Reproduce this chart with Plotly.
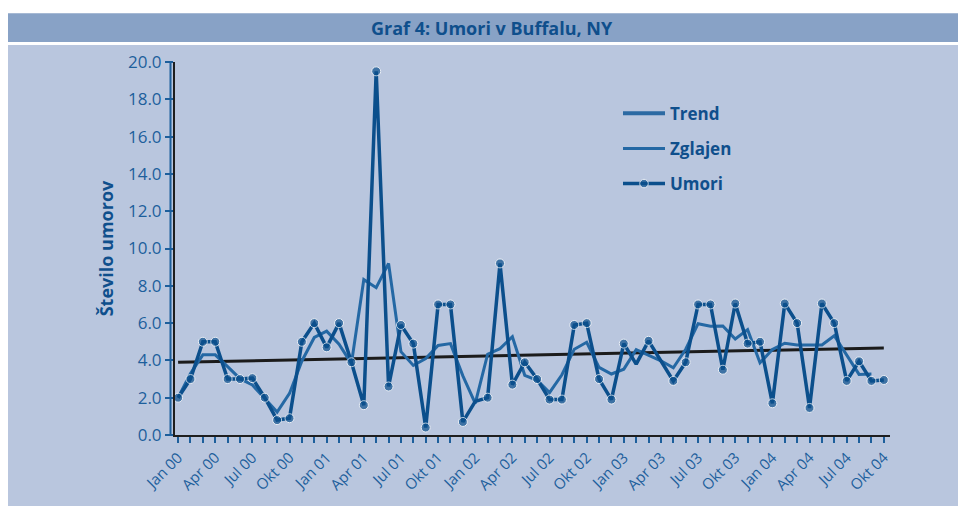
import plotly.graph_objects as go

# ---------------- data ----------------
months = ["Jan", "Feb", "Mar", "Apr", "Maj", "Jun", "Jul", "Avg", "Sep", "Okt", "Nov", "Dec"]
years = ["00", "01", "02", "03", "04"]
categories = [f"{m} {y}" for y in years for m in months][:58]   # Jan 00 .. Okt 04
label_months = ["Jan", "Apr", "Jul", "Okt"]
tick_labels = [c if c.split()[0] in label_months else "" for c in categories]

umori = [2.0, 3.0, 5.0, 5.0, 3.0, 3.0, 3.05, 2.0, 0.8, 0.9,
         5.0, 6.0, 4.7, 6.0, 3.9, 1.6, 19.5, 2.6, 5.9, 4.9,
         0.4, 7.0, 7.0, 0.7, 1.8, 2.0, 9.2, 2.7, 3.9, 3.0,
         1.9, 1.9, 5.9, 6.0, 3.0, 1.9, 4.9, 3.8, 5.05, 4.0,
         2.9, 3.9, 7.0, 7.0, 3.5, 7.05, 4.9, 5.0, 1.7, 7.05,
         6.0, 1.45, 7.05, 6.0, 2.9, 3.95, 2.9, 2.95]

zglajen = [2.0, 3.3, 4.3, 4.3, 3.67, 3.02, 2.68, 1.95, 1.23, 2.23,
           3.97, 5.23, 5.57, 4.87, 3.83, 8.33, 7.9, 9.2, 4.47, 3.73,
           4.1, 4.8, 4.9, 3.17, 1.7, 4.33, 4.63, 5.27, 3.2, 2.93,
           2.27, 3.23, 4.6, 4.97, 3.63, 3.27, 3.53, 4.58, 4.28, 3.98,
           3.6, 4.6, 5.97, 5.83, 5.85, 5.15, 5.65, 3.87, 4.58, 4.92,
           4.83, 4.83, 4.83, 5.32, 4.28, 3.25, 3.27, None]

trend_x = [categories[0], categories[-1]]
trend_y = [3.9, 4.67]

y_ticks = [0, 2, 4, 6, 8, 10, 12, 14, 16, 18, 20]

# ---------------- style ----------------
DARK = "#0b4f8c"
LIGHT = "#2468a4"
TEXT = "#0f4f8c"
TICK = "#1d5f9c"
PANEL = "#b9c6de"
BAR = "#88a2c6"

hidden_markers = {24, 37, 39}
marker_sizes = [0 if i in hidden_markers else 9 for i in range(len(umori))]

fig = go.Figure()

fig.add_trace(go.Scatter(x=trend_x, y=trend_y, mode="lines", showlegend=False,
                         line=dict(color="#1b1b1b", width=3), hoverinfo="skip"))

fig.add_trace(go.Scatter(x=[None], y=[None], mode="lines", name="<b>Trend</b>",
                         line=dict(color="#2c6aa3", width=4), legendrank=1))

fig.add_trace(go.Scatter(x=categories, y=zglajen, mode="lines", name="<b>Zglajen</b>",
                         line=dict(color=LIGHT, width=3), legendrank=2))

fig.add_trace(go.Scatter(x=categories, y=umori, mode="lines+markers", name="<b>Umori</b>",
                         line=dict(color=DARK, width=3.5),
                         marker=dict(color=DARK, size=marker_sizes), legendrank=3))

# page has an 8px body margin: screen coords -> figure coords
OFF = 8
FW, FH = 958, 498
# plot area in screen pixels
L, R, T, B = 175, 890, 62, 437
W, H = R - L, B - T


def px(x):
    return (x - L) / W


def py(y):
    return (B - y) / H


shapes = [
    dict(type="rect", xref="paper", yref="paper", x0=px(0), x1=px(980), y0=py(520), y1=py(45),
         fillcolor=PANEL, line=dict(width=0), layer="below"),
    dict(type="rect", xref="paper", yref="paper", x0=px(0), x1=px(980), y0=py(42), y1=py(13),
         fillcolor=BAR, line=dict(width=0), layer="below"),
    dict(type="line", xref="paper", yref="paper", x0=px(170.5), x1=px(170.5), y0=0, y1=1,
         line=dict(color=TICK, width=2)),
]

fig.update_layout(
    width=FW, height=FH,
    margin=dict(l=L - OFF, r=FW - (R - OFF), t=T - OFF, b=FH - (B - OFF), pad=0),
    paper_bgcolor="white",
    plot_bgcolor="rgba(0,0,0,0)",
    shapes=shapes,
    annotations=[dict(text="<b>Graf 4: Umori v Buffalu, NY</b>", xref="paper", yref="paper",
                      x=px(492), y=py(27.5), showarrow=False, xanchor="center", yanchor="middle",
                      font=dict(family="Open Sans", size=18, color=TEXT))],
    showlegend=True,
    legend=dict(x=px(618), y=py(96), xanchor="left", yanchor="top",
                bgcolor="rgba(0,0,0,0)", font=dict(family="Open Sans", size=17, color=TEXT),
                itemwidth=42, tracegroupgap=10, traceorder="grouped"),
    font=dict(family="Open Sans", color=TICK),
)

fig.update_xaxes(
    type="category", categoryorder="array", categoryarray=categories,
    range=[-0.25, 57.5],
    tickmode="array", tickvals=categories, ticktext=tick_labels,
    tickangle=-45, tickfont=dict(size=15, color=TICK, family="Open Sans"),
    showline=True, linecolor="#1e1e1e", linewidth=2,
    ticks="outside", ticklen=6, tickcolor=TICK, tickwidth=1.5,
    showgrid=False, zeroline=False,
)

fig.update_yaxes(
    range=[0, 20], tickmode="array", tickvals=y_ticks,
    ticktext=[f"{v:.1f}" for v in y_ticks],
    tickfont=dict(size=17, color=TICK, family="Open Sans"),
    showline=True, linecolor="#1e1e1e", linewidth=2,
    ticks="outside", ticklen=8, tickcolor=TICK, tickwidth=1.5,
    showgrid=False, zeroline=False,
    title=dict(text="<b>Število umorov</b>", standoff=10,
               font=dict(size=18, color=TEXT, family="Open Sans")),
)

for i, tr in enumerate(fig.data):
    tr.legendgroup = f"g{i}"

fig.write_html("out.html")
